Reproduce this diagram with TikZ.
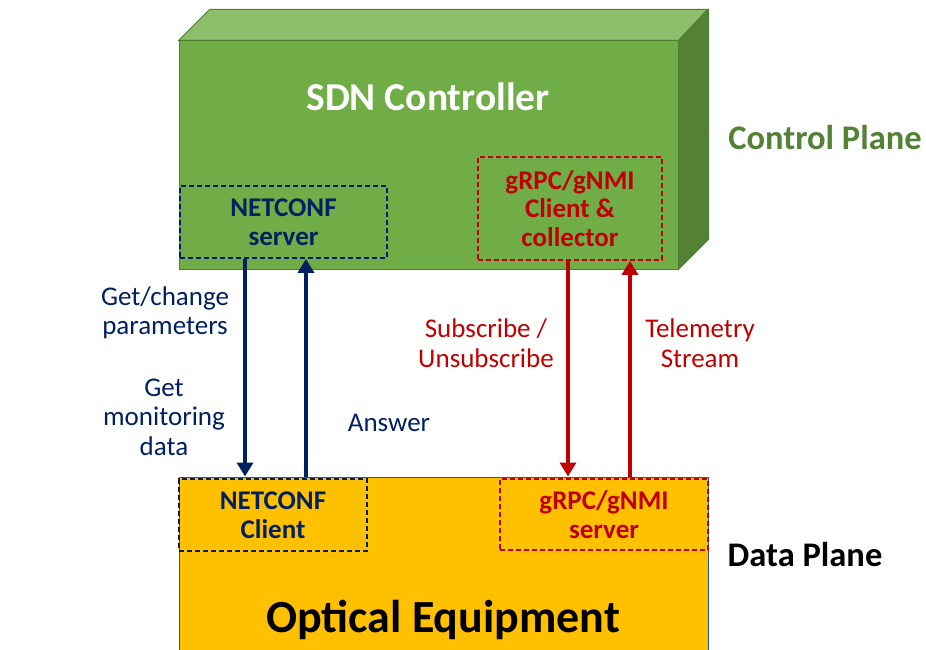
\documentclass[tikz,border=0pt]{standalone}
\usepackage{fontspec}
\setmainfont{Carlito}
\usetikzlibrary{arrows.meta,positioning,calc}
\definecolor{ctrlfront}{HTML}{70AD47}
\definecolor{ctrltop}{HTML}{8DBE6B}
\definecolor{ctrlside}{HTML}{548235}
\definecolor{ctrledge}{HTML}{507E32}
\definecolor{planegreen}{HTML}{538135}
\definecolor{optyellow}{HTML}{FFC000}
\definecolor{optedge}{HTML}{2F5597}
\definecolor{ncnavy}{HTML}{002060}
\definecolor{grpcred}{HTML}{C00000}

\begin{document}
\begin{tikzpicture}[x=1pt,y=-1pt,line width=1pt,
 box/.style={draw=#1,text=#1,dashed,dash pattern=on 5pt off 3pt,line width=1.8pt,
  inner sep=0,align=center,font=\fontsize{27}{28.5}\selectfont\bfseries},
 lbl/.style={text=#1,align=center,font=\fontsize{27}{29.5}\selectfont},
 flow/.style={draw=#1,line width=4.5pt,-{Triangle[length=14pt,width=16pt]}}]
\useasboundingbox (0,0) rectangle (926,650);
\node[draw=ctrledge,fill=ctrlfront,minimum width=499pt,minimum height=228pt,inner sep=0] (ctrl) at (428.5,155) {};
\filldraw[fill=ctrltop,draw=ctrledge] (ctrl.north west) -- ++(31,-31) -- ++(498,0) -- (ctrl.north east) -- cycle;
\filldraw[fill=ctrlside,draw=ctrledge] (ctrl.north east) -- ++(30,-31) -- ++(0,230) -- (ctrl.south east) -- cycle;
\node[text=white,font=\fontsize{39.5}{42}\selectfont\bfseries] (sdn) at (428,97) {SDN Controller};
\node[text=planegreen,font=\fontsize{34.5}{38}\selectfont\bfseries] (cp) at (825,138) {Control Plane};
\node[box=ncnavy,minimum width=207pt,minimum height=72pt] (ncs) at (283.5,222) {NETCONF\\server};
\node[box=grpcred,minimum width=184pt,minimum height=103pt] (gcl) at (570,208.5) {gRPC/gNMI\\Client \&\\collector};

\node[draw=optedge,fill=optyellow,minimum width=529pt,minimum height=175pt,inner sep=0] (opt) at (443.5,564.5) {};
\node[font=\fontsize{46}{50}\selectfont\bfseries] (oe) at (443,620) {Optical Equipment};
\node[font=\fontsize{34.5}{38}\selectfont\bfseries] (dp) at (805,555) {Data Plane};
\node[box=ncnavy,minimum width=188pt,minimum height=72pt] (ncc) at (273,515) {NETCONF\\Client};
\node[box=grpcred,minimum width=208pt,minimum height=71pt] (gsv) at (604,514.5) {gRPC/gNMI\\server};

\foreach \n/\x in {a/245,b/306,c/568,d/630}{\coordinate (\n) at (\x,0);}
\draw[flow=ncnavy] (ncs.south -| a) -- (opt.north -| a);
\draw[flow=ncnavy] (opt.north -| b) -- (ncs.south -| b);
\draw[flow=grpcred] (gcl.south -| c) -- (opt.north -| c);
\draw[flow=grpcred] (opt.north -| d) -- (gcl.south -| d);

\node[lbl=ncnavy] (gc) at (165,313) {Get/change\\parameters};
\node[lbl=ncnavy] (gm) at (164,417) {Get\\monitoring\\data};
\node[lbl=ncnavy] (ans) at (389,423) {Answer};
\node[lbl=grpcred] (sub) at (486,343) {Subscribe /\\Unsubscribe};
\node[lbl=grpcred] (tel) at (700,343) {Telemetry\\Stream};
\end{tikzpicture}
\end{document}
